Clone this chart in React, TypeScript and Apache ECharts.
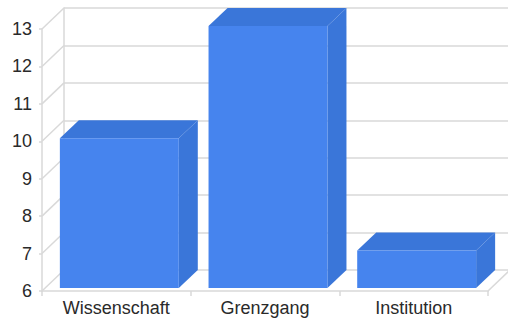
import React, { useEffect, useRef } from "react";
import * as echarts from "echarts";

const categories = ["Wissenschaft", "Grenzgang", "Institution"];
const values = [10, 13, 7];
const yTicks = [6, 7, 8, 9, 10, 11, 12, 13];

const DX = 22;
const DY = -21;
const FRONT = "#4684EE";
const DARK = "#3A76D9";
const LINE = "#d9d9d9";

export default function App() {
  const ref = useRef<HTMLDivElement>(null);
  useEffect(() => {
    if (!ref.current) return;
    const chart = echarts.init(ref.current, null, { renderer: "svg" });
    const option: any = {
      animation: false,
      grid: [
        { left: 42, width: 446, top: 29, height: 262, containLabel: false },
        { left: 42 + DX, width: 446, top: 29 + DY, height: 262, containLabel: false },
      ],
      xAxis: [
        {
          type: "category",
          gridIndex: 0,
          data: categories,
          boundaryGap: true,
          axisLine: { show: true, lineStyle: { color: LINE, width: 1.5 } },
          axisTick: { show: true, length: 5, lineStyle: { color: LINE, width: 1.5 } },
          axisLabel: {
            fontFamily: "Liberation Sans, Arial, sans-serif",
            fontSize: 18,
            color: "#2a2a2a",
            margin: 8,
          },
        },
        {
          type: "category",
          gridIndex: 1,
          data: categories,
          show: false,
        },
      ],
      yAxis: [
        {
          type: "value",
          gridIndex: 0,
          min: 6,
          max: 13,
          interval: 1,
          axisLine: { show: true, lineStyle: { color: LINE, width: 1.5 } },
          axisTick: { show: true, length: 3, lineStyle: { color: LINE, width: 1.5 } },
          splitLine: { show: false },
          axisLabel: {
            fontFamily: "Liberation Sans, Arial, sans-serif",
            fontSize: 18,
            color: "#2a2a2a",
            margin: 10,
          },
        },
        {
          type: "value",
          gridIndex: 1,
          min: 6,
          max: 13,
          interval: 1,
          axisLine: { show: true, lineStyle: { color: LINE, width: 1.5 } },
          axisTick: { show: false },
          axisLabel: { show: false },
          splitLine: { show: true, lineStyle: { color: LINE, width: 1.5 } },
        },
      ],
      series: [
        {
          type: "custom",
          xAxisIndex: 0,
          yAxisIndex: 0,
          data: yTicks.map((v) => [0, v]),
          silent: true,
          z: 1,
          renderItem: (params: any, api: any) => {
            const v = api.value(1);
            const cs = params.coordSys;
            const y = api.coord([0, v])[1];
            const children: any[] = [
              {
                type: "line",
                shape: { x1: cs.x, y1: y, x2: cs.x + DX, y2: y + DY },
                style: { stroke: LINE, lineWidth: 1.5 },
              },
            ];
            if (params.dataIndex === 0) {
              children.push({
                type: "line",
                shape: { x1: cs.x + cs.width, y1: y, x2: cs.x + cs.width + DX, y2: y + DY },
                style: { stroke: LINE, lineWidth: 1.5 },
              });
            }
            return { type: "group", children };
          },
        },
        {
          type: "custom",
          xAxisIndex: 0,
          yAxisIndex: 0,
          data: values.map((v, i) => [i, v]),
          z: 5,
          renderItem: (params: any, api: any) => {
            const i = api.value(0);
            const v = api.value(1);
            const top = api.coord([i, v]);
            const base = api.coord([i, 6]);
            const bw = api.size([1, 0])[0] * 0.8;
            const ox = 3;
            const oy = -3;
            const x0 = top[0] - bw / 2 + ox;
            const x1 = top[0] + bw / 2 + ox;
            const yt = top[1] + oy;
            const yb = base[1] + oy;
            const ddx = DX - ox;
            const ddy = DY - oy;
            return {
              type: "group",
              children: [
                {
                  type: "polygon",
                  shape: { points: [[x1, yt], [x1 + ddx, yt + ddy], [x1 + ddx, yb + ddy], [x1, yb]] },
                  style: { fill: DARK },
                },
                {
                  type: "polygon",
                  shape: { points: [[x0, yt], [x1, yt], [x1 + ddx, yt + ddy], [x0 + ddx, yt + ddy]] },
                  style: { fill: DARK },
                },
                {
                  type: "rect",
                  shape: { x: x0, y: yt, width: x1 - x0, height: yb - yt },
                  style: { fill: FRONT },
                },
              ],
            };
          },
        },
      ],
    };
    chart.setOption(option);
    return () => chart.dispose();
  }, []);
  return <div ref={ref} style={{ width: 508, height: 318, position: "absolute", left: 0, top: 0, background: "#fff" }} />;
}
